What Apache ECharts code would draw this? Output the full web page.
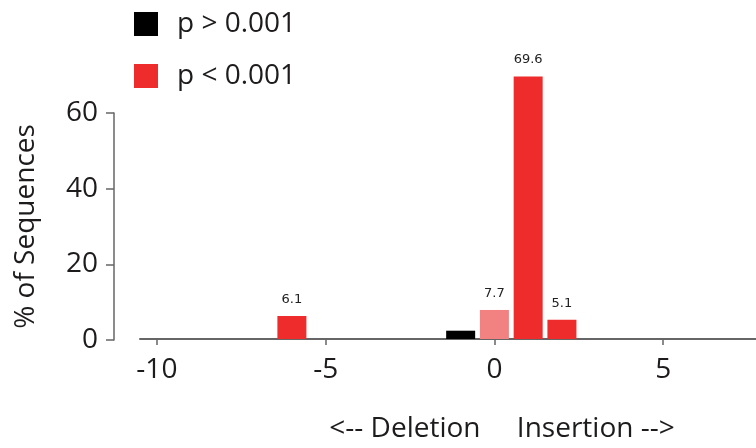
<!DOCTYPE html>
<html><head><meta charset="utf-8">
<script src="https://cdn.jsdelivr.net/npm/echarts@6/dist/echarts.min.js"></script>
<style>html,body{margin:0;padding:0;background:#fff}#c{width:756px;height:448px}</style>
</head><body><div id="c"></div>
<script>
// indel size (negative = deletion, positive = insertion)
const sigSizes = [-6, 1, 2];          // p < 0.001
const sigValues = [6.1, 69.6, 5.1];
const refSizes = [0];                 // unmodified (p < 0.001, lighter)
const refValues = [7.7];
const nsSizes = [-1];                 // p > 0.001
const nsValues = [2.2];
const xTicks = [-10, -5, 0, 5];
const yTicks = [0, 20, 40, 60];

const FONT = "'Open Sans', 'Noto Sans', sans-serif";
const FS = 28;
const TXT = '#1e1b1c';
const pair = (xs, vs) => xs.map((x, i) => [x, vs[i]]);
const labelCfg = {
  show: true, position: 'top', distance: 10, fontSize: 13, color: '#222',
  fontFamily: 'DejaVu Sans', formatter: p => p.value[1].toFixed(1)
};

const chart = echarts.init(document.getElementById('c'));
chart.setOption({
  animation: false,
  textStyle: { fontFamily: FONT },
  legend: {
    orient: 'vertical', left: 134, top: 10, padding: 0,
    itemWidth: 24, itemHeight: 24, itemGap: 24,
    icon: 'rect',
    data: ['p > 0.001', 'p < 0.001'],
    textStyle: { fontSize: FS, color: TXT, fontFamily: FONT, padding: [0, 0, 0, 14] }
  },
  grid: [
    { left: 140, right: 0, top: 56, bottom: 108 },
    { left: 140, right: 0, top: 113, bottom: 108 }
  ],
  xAxis: [
    {
      gridIndex: 0, type: 'value', min: -10.5, max: 7.75,
      axisLine: { lineStyle: { color: '#666', width: 2 } },
      axisTick: { customValues: xTicks, length: 6, lineStyle: { color: '#666', width: 1.5 } },
      axisLabel: { customValues: xTicks, fontSize: FS, color: TXT, margin: 17, fontFamily: FONT },
      splitLine: { show: false },
      name: '<-- Deletion     Insertion -->', nameLocation: 'middle', nameGap: 76,
      nameTextStyle: { fontSize: FS, color: TXT, padding: [0, 0, 0, 108], fontFamily: FONT }
    },
    { gridIndex: 1, type: 'value', min: -10.5, max: 7.75, show: false }
  ],
  yAxis: [
    { gridIndex: 0, type: 'value', min: 0, max: 75, show: false },
    {
      gridIndex: 1, type: 'value', min: 0, max: 60, interval: 20, offset: 26,
      axisLine: { show: true, onZero: false, lineStyle: { color: '#666', width: 1.5 } },
      axisTick: { show: true, length: 8, lineStyle: { color: '#666', width: 1.5 } },
      axisLabel: { fontSize: FS, color: TXT, margin: 16, fontFamily: FONT },
      splitLine: { show: false },
      name: '% of Sequences', nameLocation: 'middle', nameGap: 74, nameRotate: 90,
      nameTextStyle: { fontSize: FS, color: TXT, fontFamily: FONT }
    }
  ],
  series: [
    {
      name: 'p > 0.001', type: 'bar', xAxisIndex: 0, yAxisIndex: 0,
      barWidth: 29, barGap: '-100%',
      itemStyle: { color: '#000000' },
      data: pair(nsSizes, nsValues)
    },
    {
      name: 'p < 0.001', type: 'bar', xAxisIndex: 0, yAxisIndex: 0,
      barWidth: 29, barGap: '-100%',
      itemStyle: { color: '#ee2c2c' },
      label: labelCfg,
      data: pair(sigSizes, sigValues)
    },
    {
      name: 'unmodified', type: 'bar', xAxisIndex: 0, yAxisIndex: 0,
      barWidth: 29, barGap: '-100%',
      itemStyle: { color: '#f28282' },
      label: labelCfg,
      data: pair(refSizes, refValues)
    }
  ]
});
</script></body></html>
